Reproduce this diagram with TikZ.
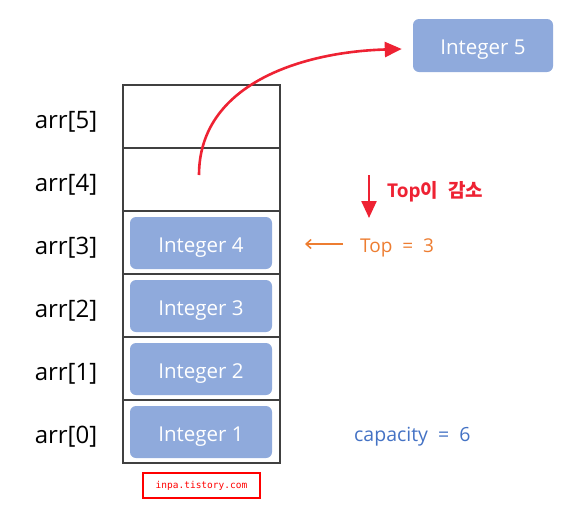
\documentclass[tikz,border=0pt]{standalone}
\usepackage{fontspec}
\setmainfont{Open Sans}
\newfontfamily\kr{Noto Sans CJK KR}
\newfontfamily\monof{DejaVu Sans Mono}
\usetikzlibrary{arrows.meta}
\definecolor{boxblue}{HTML}{8FAADC}
\definecolor{myred}{HTML}{EE2233}
\definecolor{myorange}{HTML}{ED7D31}
\definecolor{myblue}{HTML}{4472C4}
\definecolor{gridgray}{HTML}{404040}
\tikzset{
  intbox/.style={fill=boxblue, rounded corners=6pt, minimum width=142pt, minimum height=52pt, text=white, font=\fontsize{20.5}{24}\selectfont, inner sep=0pt, text height=18pt, text depth=0pt},
  cell/.style={draw=gridgray, line width=1.2pt, minimum width=157pt, minimum height=63pt, inner sep=0pt},
  idx/.style={font=\fontsize{24}{28}\selectfont, text=black, inner sep=0pt, text height=23pt, text depth=0pt}
}
\begin{document}
\begin{tikzpicture}[x=1pt,y=-1pt]
\useasboundingbox (0,0) rectangle (564,520);
% cells
\foreach \i/\y in {5/116.5,4/179.5,3/242.5,2/305.5,1/368.5,0/431.5}{
  \node[cell] (c\i) at (201.5,\y) {};
  \node[idx] (l\i) at (66,\y) {arr[\i]};
}
\node[intbox] (i4) at (201,243) {Integer 4};
\node[intbox] (i3) at (201,306) {Integer 3};
\node[intbox] (i2) at (201,369) {Integer 2};
\node[intbox] (i1) at (201,432) {Integer 1};
\node[intbox, minimum width=140pt, minimum height=53pt] (i5) at (483,45.5) {Integer 5};
% curved arrow
\coordinate (start) at (199,175);
\draw[myred, line width=2.6pt, -{Triangle[length=17pt,width=15pt]}] (start) .. controls (199,85) and (300,52) .. ([xshift=-11pt,yshift=-3.5pt]i5.west);
% Top decrease
\coordinate (dtop) at (369,175);
\coordinate (dbot) at (369,218);
\draw[myred, line width=2.4pt, -{Triangle[length=17pt,width=15pt]}] (dtop) -- (dbot);
\node[anchor=base west, text=myred, font=\fontsize{19}{22}\selectfont\bfseries, inner sep=0pt] (dec) at (387,197.5) {Top{\kr 이}\ \ {\kr\bfseries 감소}};
% Top = 3
\node[anchor=base west, text=myorange, font=\fontsize{19}{22}\selectfont, inner sep=0pt] (top) at (360,252.5) {Top\ \ =\ \ 3};
\coordinate (tipT) at (305,244);
\draw[myorange, line width=1.5pt, -{Straight Barb[length=5pt,width=9pt]}] (343,244) -- (tipT);
% capacity
\node[anchor=base west, text=myblue, font=\fontsize{19.5}{22}\selectfont, inner sep=0pt] (cap) at (354,441) {capacity\ \ =\ \ 6};
% watermark
\node[draw=red, line width=1.5pt, minimum width=117pt, minimum height=25pt, inner sep=0pt, text=red, font=\monof\fontsize{9.5}{11}\selectfont] (wm) at (201.5,485.5) {inpa.tistory.com};
\end{tikzpicture}
\end{document}
